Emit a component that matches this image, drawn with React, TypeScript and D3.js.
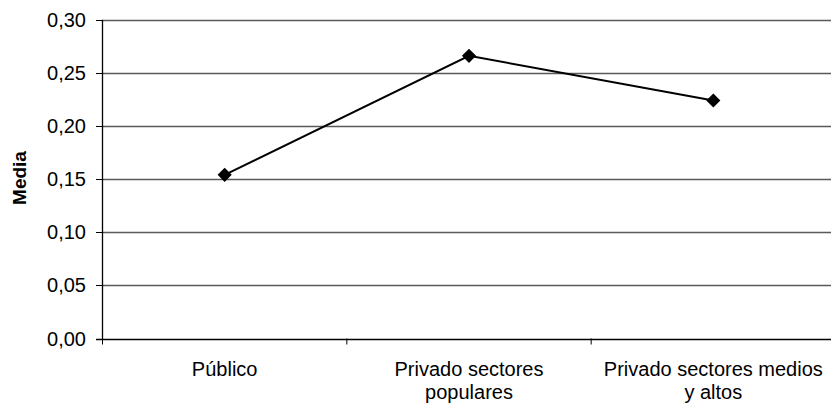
import React from "react";
import * as d3 from "d3";

const categories: string[][] = [
  ["Público"],
  ["Privado sectores", "populares"],
  ["Privado sectores medios", "y altos"],
];
const categoryKeys = ["Público", "Privado sectores populares", "Privado sectores medios y altos"];
const values = [0.154, 0.266, 0.224];
const yTicks = [0, 0.05, 0.1, 0.15, 0.2, 0.25, 0.3];
const yTitle = "Media";

const W = 831;
const H = 406;
const FONT = "'Liberation Sans', Arial, sans-serif";

export default function App() {
  const x = d3.scaleBand<string>().domain(categoryKeys).range([102.5, 835.5]).padding(0);
  const y = d3.scaleLinear().domain([0, 0.3]).range([338.5, 19.7]);
  const fmt = (v: number) => v.toFixed(2).replace(".", ",");
  const cx = (i: number) => (x(categoryKeys[i]) as number) + x.bandwidth() / 2;
  const line = d3
    .line<number>()
    .x((_, i) => cx(i))
    .y((d) => y(d));
  const diamond = d3.symbol().type(d3.symbolSquare).size(100)();
  const boundaries = [...categoryKeys.map((k) => x(k) as number), 835.5];

  return (
    <svg width={W} height={H} style={{ position: "absolute", left: 0, top: 0, background: "#fff" }}>
      <rect width={W} height={H} fill="#fff" />
      {yTicks.map((t) =>
        t > 0 ? (
          <line key={"g" + t} x1={102.5} x2={835.5} y1={Math.round(y(t)) + 0.5} y2={Math.round(y(t)) + 0.5} stroke="#5a5a5a" strokeWidth={1.3} />
        ) : null
      )}
      {yTicks.map((t) => (
        <g key={"t" + t}>
          <line x1={96} x2={102.5} y1={Math.round(y(t)) + 0.5} y2={Math.round(y(t)) + 0.5} stroke="#000" strokeWidth={1} />
          <text x={86} y={y(t)} dy="0.35em" textAnchor="end" fontFamily={FONT} fontSize={20} fill="#000">
            {fmt(t)}
          </text>
        </g>
      ))}
      <line x1={102.5} x2={102.5} y1={y(0.3)} y2={y(0) + 0.5} stroke="#000" strokeWidth={1.3} />
      <line x1={96} x2={835.5} y1={Math.round(y(0)) + 0.5} y2={Math.round(y(0)) + 0.5} stroke="#000" strokeWidth={1.3} />
      {boundaries.map((b, i) => (
        <line key={"xt" + i} x1={b} x2={b} y1={y(0)} y2={y(0) + 6} stroke="#000" strokeWidth={1} />
      ))}
      {categories.map((lines, i) => (
        <text key={"c" + i} textAnchor="middle" fontFamily={FONT} fontSize={20} fill="#000">
          {lines.map((l, j) => (
            <tspan key={j} x={cx(i)} y={376 + j * 23}>
              {l}
            </tspan>
          ))}
        </text>
      ))}
      <text
        transform={`translate(26,178) rotate(-90)`}
        textAnchor="middle"
        fontFamily={FONT}
        fontSize={19}
        fontWeight="bold"
        fill="#000"
      >
        {yTitle}
      </text>
      <path d={line(values) || ""} fill="none" stroke="#000" strokeWidth={2} />
      {values.map((v, i) => (
        <path key={"m" + i} d={diamond || ""} transform={`translate(${cx(i)},${y(v)}) rotate(45)`} fill="#000" />
      ))}
    </svg>
  );
}
